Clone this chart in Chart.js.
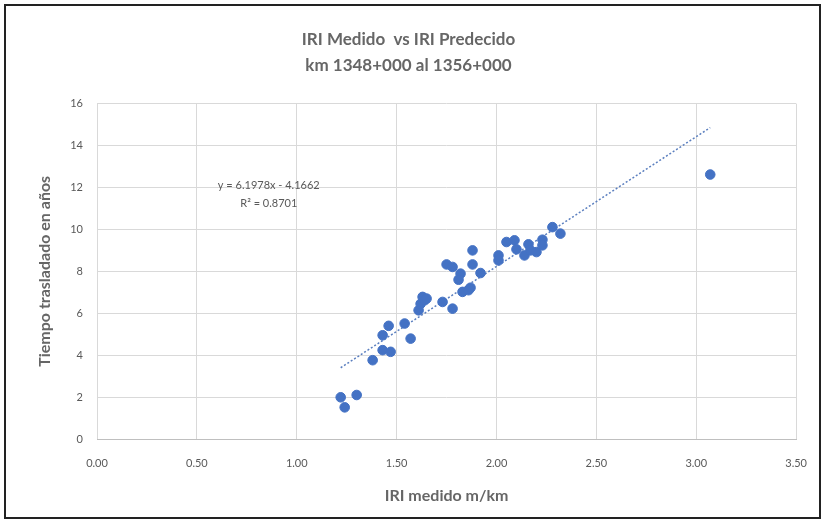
<!DOCTYPE html>
<html>
<head>
<meta charset="utf-8">
<script src="https://cdn.jsdelivr.net/npm/chart.js@4.4.1/dist/chart.umd.min.js"></script>
<style>
  html, body { margin: 0; padding: 0; background: #fff; }
  #wrap { position: relative; width: 825px; height: 523px; }
  #frame { position: absolute; left: 4px; top: 4px; width: 813px; height: 511px;
           border: 2px solid #222; pointer-events: none; }
</style>
</head>
<body>
<div id="wrap">
  <canvas id="chart" width="825" height="523"></canvas>
  <div id="frame"></div>
</div>
<script>
// ---------- Datos ----------
const iriMedido = [
  1.22, 1.24, 1.30, 1.38, 1.43, 1.47, 1.43, 1.46, 1.54, 1.57,
  1.61, 1.62, 1.63, 1.64, 1.65, 1.73, 1.78, 1.75, 1.78, 1.82,
  1.81, 1.83, 1.86, 1.87, 1.88, 1.88, 1.92, 2.01, 2.01, 2.05,
  2.09, 2.10, 2.14, 2.16, 2.17, 2.20, 2.23, 2.23, 2.28, 2.32,
  3.07
];
const tiempoAnios = [
  1.99, 1.51, 2.10, 3.76, 4.24, 4.16, 4.95, 5.40, 5.51, 4.79,
  6.14, 6.45, 6.78, 6.62, 6.70, 6.54, 6.22, 8.33, 8.21, 7.89,
  7.60, 7.02, 7.10, 7.22, 9.00, 8.33, 7.92, 8.76, 8.52, 9.40,
  9.48, 9.05, 8.76, 9.29, 9.00, 8.92, 9.51, 9.24, 10.11, 9.80,
  12.62
];
// línea de tendencia (extremos)
const trendX = [1.22, 3.07];
const trendY = [3.40, 14.86];

const titleLines = ["IRI Medido  vs IRI Predecido", "km 1348+000 al 1356+000"];
const eqLines = ["y = 6.1978x - 4.1662", "R\u00b2 = 0.8701"];
const xTitle = "IRI medido m/km";
const yTitle = "Tiempo trasladado en años";

// ---------- Helpers ----------
function toPoints(xs, ys) {
  return xs.map((x, i) => ({ x: x, y: ys[i] }));
}

const FONT = "Lato, 'Open Sans', sans-serif";
const GRAY = "#595959";

// ecuación de la tendencia, como etiqueta de Excel
const trendLabel = {
  id: "trendLabel",
  afterDatasetsDraw(chart) {
    const { ctx, scales } = chart;
    const cx = scales.x.getPixelForValue(0.86);
    ctx.save();
    ctx.fillStyle = GRAY;
    ctx.font = "11px " + FONT;
    ctx.textAlign = "center";
    ctx.textBaseline = "middle";
    ctx.fillText(eqLines[0], cx, scales.y.getPixelForValue(12.1));
    ctx.fillText(eqLines[1], cx, scales.y.getPixelForValue(11.25));
    ctx.restore();
  }
};

new Chart(document.getElementById("chart"), {
  type: "scatter",
  data: {
    datasets: [
      {
        label: "Tiempo",
        data: toPoints(iriMedido, tiempoAnios),
        backgroundColor: "#4472C4",
        borderColor: "#4472C4",
        pointRadius: 4.8,
        borderWidth: 1,
      },
      {
        type: "line",
        label: "Tendencia",
        data: toPoints(trendX, trendY),
        borderColor: "#5b7fbf",
        borderWidth: 1.5,
        borderDash: [2, 2],
        pointRadius: 0,
        fill: false,
      },
    ],
  },
  plugins: [trendLabel],
  options: {
    responsive: false,
    animation: false,
    layout: { padding: { left: 8, right: 16, top: 18, bottom: 12 } },
    plugins: {
      legend: { display: false },
      tooltip: { enabled: false },
      title: {
        display: true,
        text: titleLines,
        color: "#666",
        font: { family: FONT, size: 17, weight: "bold", lineHeight: 1.55 },
        padding: { top: 8, bottom: 25 },
      },
    },
    scales: {
      x: {
        type: "linear",
        min: 0,
        max: 3.5,
        ticks: {
          stepSize: 0.5,
          color: GRAY,
          font: { family: FONT, size: 11 },
          padding: 18,
          callback: (v) => v.toFixed(2),
        },
        grid: { color: "#d9d9d9", drawTicks: false },
        border: { color: "#bfbfbf" },
        title: {
          display: true,
          text: xTitle,
          color: "#666",
          font: { family: FONT, size: 16, weight: "bold" },
          padding: { bottom: 6 },
        },
        afterFit(scale) { scale.height = 72; },
      },
      y: {
        min: 0,
        max: 16,
        ticks: {
          stepSize: 2,
          color: GRAY,
          font: { family: FONT, size: 11 },
          padding: 14,
        },
        grid: { color: "#d9d9d9", drawTicks: false },
        border: { display: false },
        title: {
          display: true,
          text: yTitle,
          color: "#666",
          font: { family: FONT, size: 16, weight: "bold" },
          padding: { top: 27 },
        },
        afterFit(scale) { scale.width = 89; },
      },
    },
  },
});
</script>
</body>
</html>
